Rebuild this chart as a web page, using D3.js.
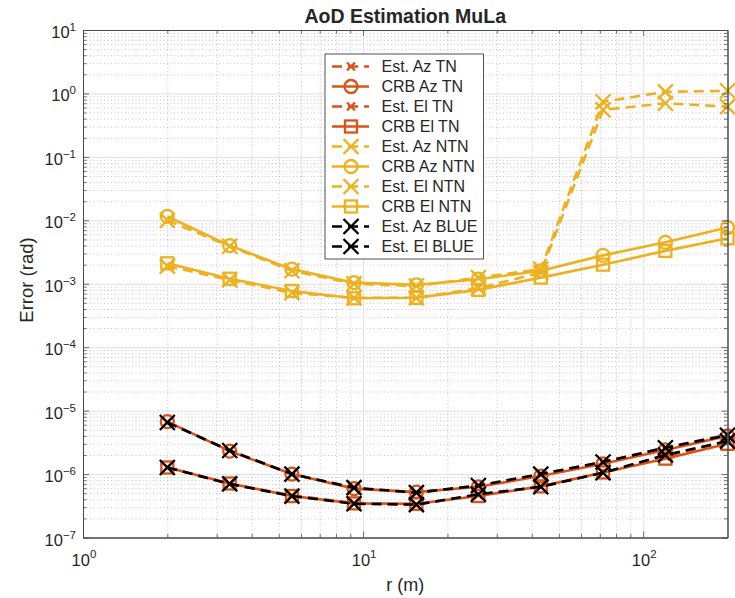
<!DOCTYPE html>
<html>
<head>
<meta charset="utf-8">
<script src="https://cdn.jsdelivr.net/npm/d3@7"></script>
<style>
  html, body { margin: 0; padding: 0; background: #fff; }
  svg { display: block; }
  text { font-family: "Liberation Sans", Arial, Helvetica, sans-serif; fill: #262626; }
</style>
</head>
<body>
<svg id="chart" width="735" height="598"></svg>
<script>
// ---------------- data ----------------
const rValues = [2, 3.34, 5.57, 9.28, 15.5, 25.8, 43.1, 71.9, 120, 200];

const estAzTN   = [6.6e-6, 2.35e-6, 1.0e-6, 6.0e-7, 5.1e-7, 6.5e-7, 1.0e-6, 1.55e-6, 2.6e-6, 4.2e-6];
const crbAzTN   = [6.7e-6, 2.3e-6, 1.0e-6, 5.9e-7, 5.2e-7, 6.3e-7, 9.3e-7, 1.45e-6, 2.4e-6, 4.0e-6];
const estElTN   = [1.28e-6, 7.0e-7, 4.6e-7, 3.5e-7, 3.3e-7, 4.7e-7, 6.3e-7, 1.05e-6, 1.9e-6, 3.3e-6];
const crbElTN   = [1.27e-6, 7.1e-7, 4.5e-7, 3.45e-7, 3.4e-7, 4.5e-7, 6.4e-7, 1.06e-6, 1.75e-6, 3.0e-6];

const estAzNTN  = [1.0e-2, 3.9e-3, 1.6e-3, 1.0e-3, 9.2e-4, 1.25e-3, 1.7e-3, 0.74, 1.06, 1.10];
const crbAzNTN  = [1.15e-2, 4.0e-3, 1.7e-3, 1.04e-3, 9.6e-4, 1.18e-3, 1.6e-3, 2.8e-3, 4.5e-3, 7.7e-3];
const estElNTN  = [1.9e-3, 1.15e-3, 7.2e-4, 6.0e-4, 6.0e-4, 8.5e-4, 1.5e-3, 0.55, 0.70, 0.62];
const crbElNTN  = [2.1e-3, 1.2e-3, 7.7e-4, 5.9e-4, 6.0e-4, 8.0e-4, 1.25e-3, 2.0e-3, 3.3e-3, 5.2e-3];

const estAzBLUE = [6.5e-6, 2.35e-6, 1.0e-6, 6.1e-7, 5.1e-7, 6.6e-7, 1.0e-6, 1.55e-6, 2.6e-6, 4.1e-6];
const estElBLUE = [1.27e-6, 7.0e-7, 4.5e-7, 3.4e-7, 3.3e-7, 4.8e-7, 6.3e-7, 1.05e-6, 2.0e-6, 3.3e-6];

const seriesNames = ["Est. Az TN", "CRB Az TN", "Est. El TN", "CRB El TN",
                     "Est. Az NTN", "CRB Az NTN", "Est. El NTN", "CRB El NTN",
                     "Est. Az BLUE", "Est. El BLUE"];

const xTickExponents = [0, 1, 2];
const yTickExponents = [-7, -6, -5, -4, -3, -2, -1, 0, 1];

const titleText = "AoD Estimation MuLa";
const xLabelText = "r (m)";
const yLabelText = "Error (rad)";

// ---------------- styles ----------------
const cTN = "#D95319", cNTN = "#EDB120", cBLUE = "#000000";
const series = [
  {name: seriesNames[0], values: estAzTN,   color: cTN,   dash: true,  marker: "xs"},
  {name: seriesNames[1], values: crbAzTN,   color: cTN,   dash: false, marker: "o"},
  {name: seriesNames[2], values: estElTN,   color: cTN,   dash: true,  marker: "xs"},
  {name: seriesNames[3], values: crbElTN,   color: cTN,   dash: false, marker: "s"},
  {name: seriesNames[4], values: estAzNTN,  color: cNTN,  dash: true,  marker: "x"},
  {name: seriesNames[5], values: crbAzNTN,  color: cNTN,  dash: false, marker: "o"},
  {name: seriesNames[6], values: estElNTN,  color: cNTN,  dash: true,  marker: "x"},
  {name: seriesNames[7], values: crbElNTN,  color: cNTN,  dash: false, marker: "s"},
  {name: seriesNames[8], values: estAzBLUE, color: cBLUE, dash: true,  marker: "x"},
  {name: seriesNames[9], values: estElBLUE, color: cBLUE, dash: true,  marker: "x"}
];

const L = 83, R = 727.5, T = 30, B = 537.5;
const LW = 2.6, MW = 2.3;
const svg = d3.select("#chart");

const x = d3.scaleLog().domain([1, 200]).range([L, R]);
const y = d3.scaleLog().domain([1e-7, 1e1]).range([B, T]);

// minor values
const xMinor = [];
for (let d = 0; d <= 2; d++) for (let k = 2; k <= 9; k++) { const v = k * Math.pow(10, d); if (v < 200) xMinor.push(v); }
const yMinor = [];
for (let d = -7; d <= 0; d++) for (let k = 2; k <= 9; k++) yMinor.push(k * Math.pow(10, d));
const xMajor = xTickExponents.map(e => Math.pow(10, e));
const yMajor = yTickExponents.map(e => Math.pow(10, e));

svg.append("rect").attr("x", L).attr("y", T).attr("width", R - L).attr("height", B - T).attr("fill", "#fff");

// minor grid
const gridMinorX = svg.append("g").attr("transform", `translate(0,${B})`)
  .call(d3.axisBottom(x).tickValues(xMinor).tickSize(-(B - T)).tickFormat(""));
const gridMinorY = svg.append("g").attr("transform", `translate(${L},0)`)
  .call(d3.axisLeft(y).tickValues(yMinor).tickSize(-(R - L)).tickFormat(""));
[gridMinorX, gridMinorY].forEach(g => {
  g.select(".domain").remove();
  g.selectAll(".tick line").attr("stroke", "#b8b8b8").attr("stroke-width", 0.8).attr("stroke-dasharray", "1,2.5");
});
// major grid
const gridMajorX = svg.append("g").attr("transform", `translate(0,${B})`)
  .call(d3.axisBottom(x).tickValues(xMajor).tickSize(-(B - T)).tickFormat(""));
const gridMajorY = svg.append("g").attr("transform", `translate(${L},0)`)
  .call(d3.axisLeft(y).tickValues(yMajor).tickSize(-(R - L)).tickFormat(""));
[gridMajorX, gridMajorY].forEach(g => {
  g.select(".domain").remove();
  g.selectAll(".tick line").attr("stroke", "#e0e0e0").attr("stroke-width", 1);
});

// ---------------- lines & markers ----------------
const line = d3.line().x((d, i) => x(rValues[i])).y(d => y(d));
const plot = svg.append("g");

function drawMarker(g, type, cx, cy, color) {
  if (type === "o") {
    g.append("circle").attr("cx", cx).attr("cy", cy).attr("r", 6.5)
      .attr("fill", "none").attr("stroke", color).attr("stroke-width", MW);
  } else if (type === "s") {
    g.append("rect").attr("x", cx - 6).attr("y", cy - 6).attr("width", 12).attr("height", 12)
      .attr("fill", "none").attr("stroke", color).attr("stroke-width", MW);
  } else {
    const h = type === "x" ? 7.5 : 4;
    g.append("path").attr("d", `M${cx - h},${cy - h}L${cx + h},${cy + h}M${cx - h},${cy + h}L${cx + h},${cy - h}`)
      .attr("fill", "none").attr("stroke", color).attr("stroke-width", MW);
  }
}

series.forEach(s => {
  const g = plot.append("g");
  g.append("path").datum(s.values).attr("d", line)
    .attr("fill", "none").attr("stroke", s.color).attr("stroke-width", LW)
    .attr("stroke-dasharray", s.dash ? "10,6" : null);
  s.values.forEach((v, i) => drawMarker(g, s.marker, x(rValues[i]), y(v), s.color));
});

// ---------------- axes ----------------
const axisColor = "#4a4a4a";
function styleAxis(g) {
  g.select(".domain").attr("stroke", axisColor).attr("stroke-width", 1);
  g.selectAll(".tick line").attr("stroke", axisColor).attr("stroke-width", 0.8);
}
function addAxis(gen, tx, ty) {
  const g = svg.append("g").attr("transform", `translate(${tx},${ty})`).call(gen);
  styleAxis(g);
}
addAxis(d3.axisBottom(x).tickValues(xMajor).tickSize(-6).tickSizeOuter(0).tickFormat(""), 0, B);
addAxis(d3.axisBottom(x).tickValues(xMinor).tickSize(-3.5).tickSizeOuter(0).tickFormat(""), 0, B);
addAxis(d3.axisTop(x).tickValues(xMajor).tickSize(-6).tickSizeOuter(0).tickFormat(""), 0, T);
addAxis(d3.axisTop(x).tickValues(xMinor).tickSize(-3.5).tickSizeOuter(0).tickFormat(""), 0, T);
addAxis(d3.axisLeft(y).tickValues(yMajor).tickSize(-6).tickSizeOuter(0).tickFormat(""), L, 0);
addAxis(d3.axisLeft(y).tickValues(yMinor).tickSize(-3.5).tickSizeOuter(0).tickFormat(""), L, 0);
addAxis(d3.axisRight(y).tickValues(yMajor).tickSize(-6).tickSizeOuter(0).tickFormat(""), R, 0);
addAxis(d3.axisRight(y).tickValues(yMinor).tickSize(-3.5).tickSizeOuter(0).tickFormat(""), R, 0);

// tick labels with superscripts
const supText = e => (e < 0 ? "\u2212" + Math.abs(e) : String(e));
yTickExponents.forEach(e => {
  const t = svg.append("text").attr("x", 76).attr("y", y(Math.pow(10, e)) + 8)
    .attr("text-anchor", "end");
  t.append("tspan").attr("font-size", 16.5).text("10");
  t.append("tspan").attr("font-size", 11.5).attr("dy", -7).text(supText(e));
});
xTickExponents.forEach(e => {
  const t = svg.append("text").attr("x", x(Math.pow(10, e)) + 1).attr("y", 566)
    .attr("text-anchor", "middle");
  t.append("tspan").attr("font-size", 16.5).text("10");
  t.append("tspan").attr("font-size", 11.5).attr("dy", -8).text(supText(e));
});

// labels and title
svg.append("text").attr("x", (L + R) / 2).attr("y", 23).attr("text-anchor", "middle")
  .attr("font-size", 19.5).attr("font-weight", "bold").attr("fill", "#000").text(titleText);
svg.append("text").attr("x", (L + R) / 2).attr("y", 591).attr("text-anchor", "middle")
  .attr("font-size", 18).text(xLabelText);
svg.append("text").attr("transform", `translate(33,280) rotate(-90)`).attr("text-anchor", "middle")
  .attr("font-size", 18.5).text(yLabelText);

// ---------------- legend ----------------
const lg = svg.append("g");
lg.append("rect").attr("x", 325).attr("y", 54).attr("width", 158.5).attr("height", 205)
  .attr("fill", "#fff").attr("stroke", "#262626").attr("stroke-width", 0.8);
series.forEach((s, i) => {
  const cy = 66.5 + i * 20;
  const g = lg.append("g");
  g.append("line").attr("x1", 332).attr("x2", 369).attr("y1", cy).attr("y2", cy)
    .attr("stroke", s.color).attr("stroke-width", LW)
    .attr("stroke-dasharray", s.dash ? "10,6" : null);
  drawMarker(g, s.marker, 351, cy, s.color);
  g.append("text").attr("x", 381.5).attr("y", cy + 5.6).attr("font-size", 16).attr("fill", "#000").text(s.name);
});
</script>
</body>
</html>
